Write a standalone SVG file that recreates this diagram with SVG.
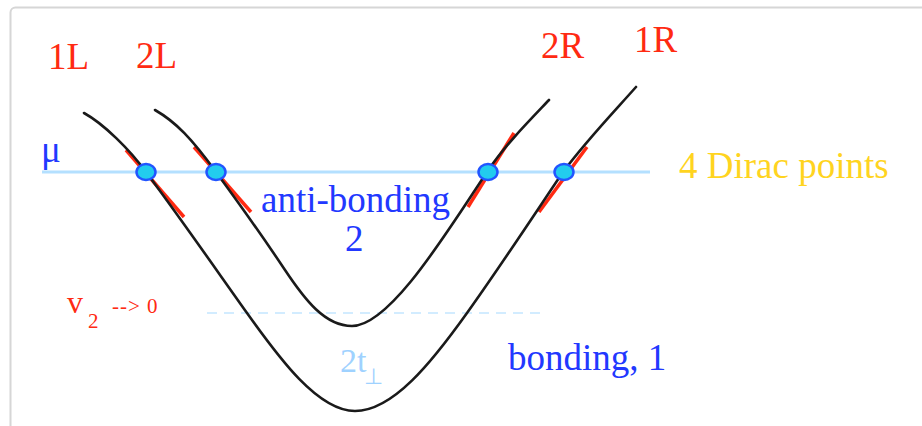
<svg xmlns="http://www.w3.org/2000/svg" width="922" height="426" viewBox="0 0 922 426">
<style>
text{font-family:"Liberation Serif","Times New Roman",serif;font-size:37px}
.red{fill:#ff2a12}
.blue{fill:#2238ff}
.lb{fill:#9fd2ff}
.band{fill:none;stroke:#1a1a1a;stroke-width:2.6;stroke-linecap:round}
.tan{stroke:#ff2a12;stroke-width:3.5;stroke-linecap:butt}
.dp{fill:#22ccee;stroke:#2255ff;stroke-width:2.5}
</style>
<rect x="0" y="0" width="922" height="426" fill="#ffffff"/>
<rect id="frame" x="10.5" y="7.5" width="940" height="440" rx="5" fill="#ffffff" stroke="#d6d6d6" stroke-width="2"/>
<g id="levels">
<line x1="42" y1="172" x2="650" y2="172" stroke="#b4e0ff" stroke-width="3"/>
<line x1="207" y1="313" x2="541" y2="313" stroke="#c4e6ff" stroke-width="1.6" stroke-dasharray="10,7"/>
</g>
<g id="tangents">
<line class="tan" x1="126" y1="150" x2="184" y2="217"/>
<line class="tan" x1="194" y1="147" x2="251" y2="212"/>
<line class="tan" x1="468" y1="207" x2="514" y2="133"/>
<line class="tan" x1="539" y1="212" x2="587" y2="147"/>
</g>
<g id="bands">
<path id="band1" class="band" d="M84,113 C104,124 130,150 146,172 C176,212 215,268 247,313 C279,358 318,411 355,411 C393,411 432,362 467,313 C502,264 540,206 563,172 C586,141 612,114 636,87"/>
<path id="band2" class="band" d="M155,110 C176,122 192,139 216,172 C238,202 261,234 285,270 C305,300 325,326 352,326 C390,326 447,232 487,172 C505,145 530,120 549,100"/>
</g>
<g id="dirac">
<ellipse class="dp" cx="146" cy="172" rx="9.5" ry="8"/>
<ellipse class="dp" cx="216" cy="172" rx="9.5" ry="8"/>
<ellipse class="dp" cx="488" cy="172" rx="9.5" ry="8"/>
<ellipse class="dp" cx="564" cy="172" rx="9.5" ry="8"/>
</g>
<g id="labels">
<text class="red" x="48" y="69">1L</text>
<text class="red" x="136" y="68">2L</text>
<text class="red" x="541" y="58">2R</text>
<text class="red" x="634" y="52">1R</text>
<text class="blue" x="41" y="162">μ</text>
<text x="679" y="178" fill="#ffd41f">4 Dirac points</text>
<text class="blue" x="261" y="212">anti-bonding</text>
<text class="blue" x="345" y="251">2</text>
<text class="red" x="67" y="313" style="font-size:32px">v</text>
<text class="red" x="88" y="328" style="font-size:21px">2</text>
<text class="red" x="112" y="313" style="font-size:21px;letter-spacing:1px">--&gt; 0</text>
<text class="lb" x="340" y="372" style="font-size:34px">2t</text>
<text class="lb" x="364" y="384" style="font-size:22px">⊥</text>
<text class="blue" x="508" y="370">bonding, 1</text>
</g>
</svg>
